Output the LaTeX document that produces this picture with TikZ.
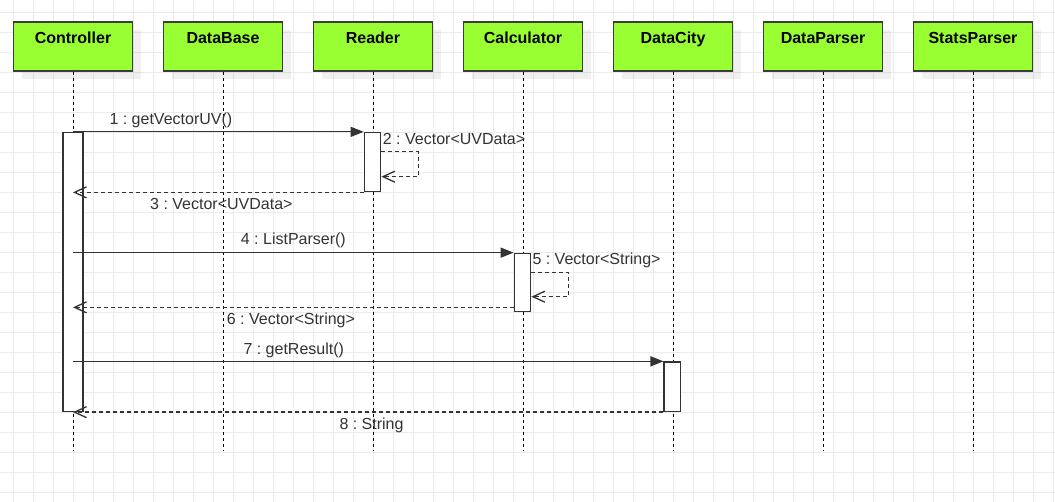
\documentclass[tikz,border=0pt]{standalone}
\usepackage{fontspec}
\setmainfont{Liberation Sans}
\usetikzlibrary{shadows,arrows.meta}
\definecolor{limec}{HTML}{99FF33}
\definecolor{boxline}{HTML}{3A3D3A}
\definecolor{gridc}{HTML}{EBEBEB}
\definecolor{msgc}{HTML}{333333}
\frenchspacing
\begin{document}
\begin{tikzpicture}[x=1pt,y=-1pt,
  gridline/.style={draw=gridc, line width=1pt},
  head/.style={draw=boxline, line width=1.5pt, fill=limec, minimum width=119pt, minimum height=49pt,
    inner sep=0pt, text height=12pt, text depth=17.5pt,
    font=\fontsize{16}{19}\selectfont\bfseries,
    general shadow={fill=black, fill opacity=0.06, shadow xshift=8pt, shadow yshift=-8pt}},
  lifeline/.style={draw=black, line width=1pt, dash pattern=on 3pt off 3pt},
  act/.style={draw=msgc, line width=1.3pt, fill=white, inner sep=0pt, minimum width=16.4pt},
  call/.style={draw=msgc, line width=1.3pt, -{Triangle[length=13pt,width=10pt]}},
  reply/.style={draw=msgc, line width=1.3pt, dash pattern=on 4pt off 3pt, -{Straight Barb[length=12pt,width=11pt]}},
  lbl/.style={font=\fontsize{16}{19}\selectfont, text=msgc, inner sep=0pt, anchor=base west}
]
\fill[white] (0,0) rectangle (1055,502);
\useasboundingbox (0,0) rectangle (1055,502);
% grid
\foreach \i in {0,...,52} \draw[gridline] ({13.3+20*\i},0) -- ({13.3+20*\i},502);
\foreach \j in {0,...,24} \draw[gridline] (0,{12.3+20*\j}) -- (1055,{12.3+20*\j});
% headers
\node[head] (hc) at (73,46.5) {Controller};
\node[head] (hd) at (223,46.5) {DataBase};
\node[head] (hr) at (373,46.5) {Reader};
\node[head] (hk) at (523,46.5) {Calculator};
\node[head] (hy) at (673,46.5) {DataCity};
\node[head] (hp) at (823,46.5) {DataParser};
\node[head] (hs) at (973,46.5) {StatsParser};
% lifelines
\foreach \n in {hc,hd,hr,hk,hy,hp,hs}{
  \coordinate (e\n) at (\n.south |- 0,450);
  \draw[lifeline] (\n.south) -- (e\n);
}
% activations
\node[act, minimum width=20pt, minimum height=279pt] (ac) at (73,272) {};
\node[act, minimum height=59.2pt] (ar) at (372.5,162.1) {};
\node[act, minimum height=58.4pt] (ak) at (522.5,282.5) {};
\node[act, minimum height=49.5pt] (ay) at (672.3,386.75) {};
% message 1
\draw[call] (hc |- ar.north west) -- (ar.north west);
\node[lbl] (l1) at (109.3,124.7) {1 : getVectorUV()};
% message 2 (self)
\coordinate (s2a) at (418.3,151.7);
\coordinate (s2b) at (418.3,176.7);
\draw[reply] (ar.east |- s2a) -- (s2a) -- (s2b) -- (ar.east |- s2b);
\node[lbl] (l2) at (382.7,144.5) {2 : Vector<UVData>};
% message 3
\draw[reply] (ar.south west) -- (hc |- ar.south west);
\node[lbl] (l3) at (150,209.3) {3 : Vector<UVData>};
% message 4
\draw[call] (hc |- ak.north west) -- (ak.north west);
\node[lbl] (l4) at (240.7,245) {4 : ListParser()};
% message 5 (self)
\coordinate (s5a) at (568.3,272.3);
\coordinate (s5b) at (568.3,296.7);
\draw[reply] (ak.east |- s5a) -- (s5a) -- (s5b) -- (ak.east |- s5b);
\node[lbl] (l5) at (532.3,265) {5 : Vector<String>};
% message 6
\coordinate (r6) at ([yshift=5pt]ak.south west);
\draw[reply] (r6) -- (hc |- r6);
\node[lbl] (l6) at (226.7,324.3) {6 : Vector<String>};
% message 7
\draw[call] (hc |- ay.north west) -- (ay.north west);
\node[lbl] (l7) at (243.3,354.3) {7 : getResult()};
% message 8
\draw[reply] (ay.south west) -- (hc |- ay.south west);
\node[lbl] (l8) at (339.3,429.7) {8 : String};
\end{tikzpicture}
\end{document}
